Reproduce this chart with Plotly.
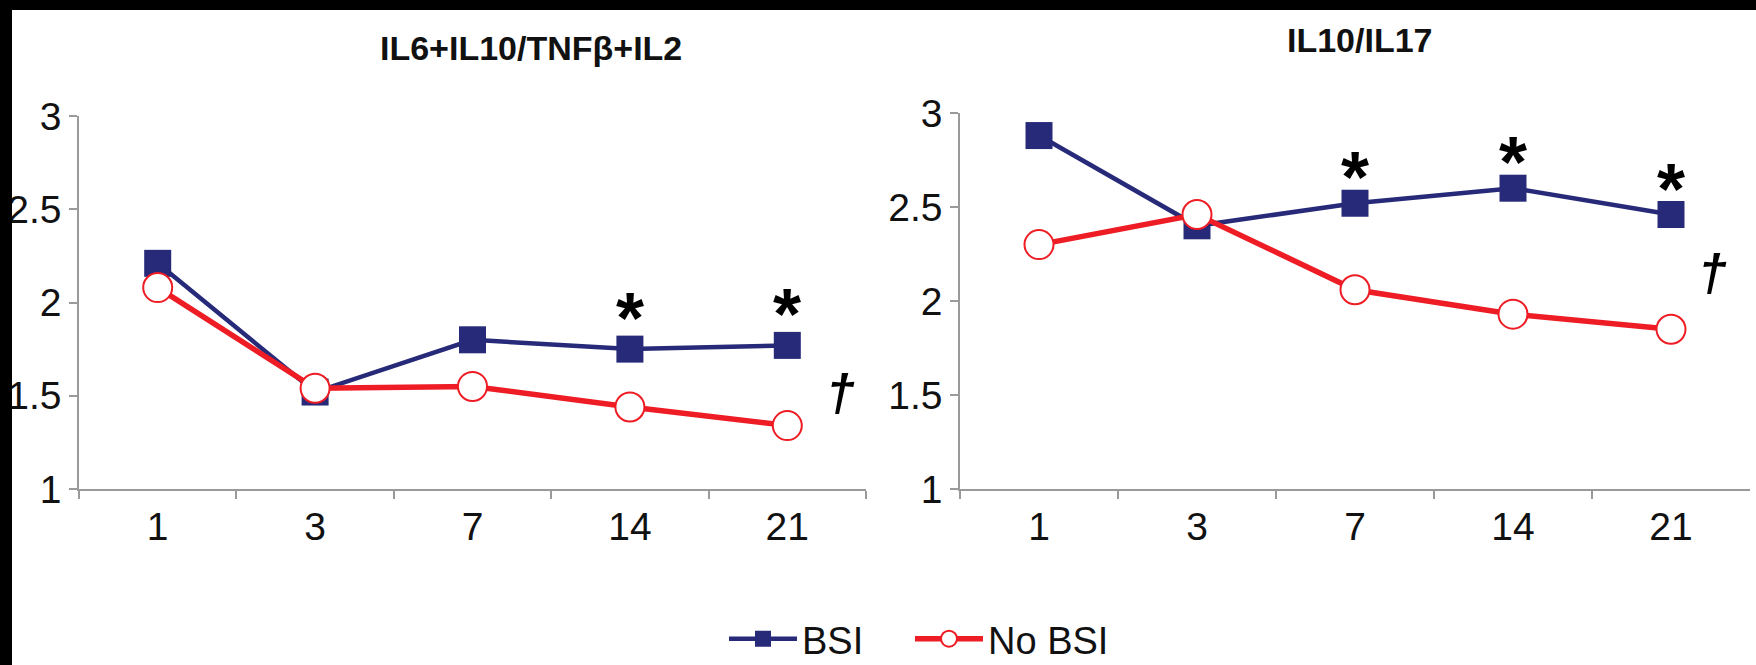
import plotly.graph_objects as go

# Sampling days (category axis)
days = ["1", "3", "7", "14", "21"]

# IL6+IL10/TNFβ+IL2 ratio
ratio1_bsi = [2.21, 1.52, 1.80, 1.75, 1.77]
ratio1_nobsi = [2.08, 1.54, 1.55, 1.44, 1.34]

# IL10/IL17 ratio
ratio2_bsi = [2.88, 2.40, 2.52, 2.60, 2.46]
ratio2_nobsi = [2.30, 2.46, 2.06, 1.93, 1.85]

panel_titles = ["IL6+IL10/TNF\u03b2+IL2", "IL10/IL17"]
y_ticks = [1, 1.5, 2, 2.5, 3]
y_ticktext = ["1", "1.5", "2", "2.5", "3"]

# days with a significant BSI vs No BSI difference ("*")
star_days_1 = ["14", "21"]
star_days_2 = ["7", "14", "21"]

BLUE = "#262a78"
RED = "#ee1c24"
FONT = "Liberation Sans, Arial, sans-serif"

W, H = 1756, 665

fig = go.Figure()

def add_pair(bsi, nobsi, xa, ya, show):
    fig.add_trace(go.Scatter(
        x=days, y=bsi, name="BSI", mode="lines+markers",
        line=dict(color=BLUE, width=4.5),
        marker=dict(symbol="square", size=27, color=BLUE, line=dict(width=0)),
        xaxis=xa, yaxis=ya, showlegend=show, legend="legend"))
    fig.add_trace(go.Scatter(
        x=days, y=nobsi, name="No BSI", mode="lines+markers",
        line=dict(color=RED, width=5.5),
        marker=dict(symbol="circle", size=29, color="white", line=dict(width=2, color=RED)),
        xaxis=xa, yaxis=ya, showlegend=show, legend="legend2"))

add_pair(ratio1_bsi, ratio1_nobsi, "x", "y", True)
add_pair(ratio2_bsi, ratio2_nobsi, "x2", "y2", False)

def px_x(p):
    return p / W

def px_y(p):
    return 1 - p / H

xcommon = dict(
    type="category", range=[-0.5, 4.5], showgrid=False, zeroline=False,
    showline=True, linecolor="#9a9a9a", linewidth=1.5,
    ticks="outside", ticklen=8, tickcolor="#9a9a9a", tickwidth=1.5,
    tickson="boundaries", ticklabelstandoff=2, automargin=False,
    tickfont=dict(family=FONT, size=39, color="#111111"),
)
ycommon = dict(
    range=[1, 3], showgrid=False, zeroline=False,
    showline=True, linecolor="#9a9a9a", linewidth=1.5,
    ticks="outside", ticklen=8, tickcolor="#9a9a9a", tickwidth=1.5,
    tickvals=y_ticks, ticktext=y_ticktext, automargin=False,
    tickfont=dict(family=FONT, size=39, color="#111111"),
)

legend_common = dict(orientation="h", xanchor="left", y=px_y(639), yanchor="middle",
                     font=dict(family=FONT, size=38, color="#111111"),
                     itemwidth=68, bgcolor="rgba(0,0,0,0)")

fig.update_layout(
    width=W, height=H,
    margin=dict(l=0, r=0, t=0, b=0, autoexpand=False),
    paper_bgcolor="white", plot_bgcolor="white",
    xaxis=dict(domain=[px_x(79), px_x(866)], anchor="y", **xcommon),
    yaxis=dict(domain=[px_y(489), px_y(116)], anchor="x", **ycommon),
    xaxis2=dict(domain=[px_x(960), px_x(1750)], anchor="y2", **xcommon),
    yaxis2=dict(domain=[px_y(489), px_y(113)], anchor="x2", **ycommon),
    legend=dict(x=px_x(724), **legend_common),
    legend2=dict(x=px_x(910), **legend_common),
    showlegend=True,
)

annotations = [
    dict(text="<b>%s</b>" % panel_titles[0], x=px_x(531), y=px_y(48), xref="paper", yref="paper",
         showarrow=False, xanchor="center", yanchor="middle",
         font=dict(family=FONT, size=34, color="#111111")),
    dict(text="<b>%s</b>" % panel_titles[1], x=px_x(1360), y=px_y(40), xref="paper", yref="paper",
         showarrow=False, xanchor="center", yanchor="middle",
         font=dict(family=FONT, size=34, color="#111111")),
]

# "*" above the BSI marker; x given as category index
for d in star_days_1:
    i = days.index(d)
    annotations.append(dict(text="<b>*</b>", x=i, y=ratio1_bsi[i], xref="x", yref="y",
                            showarrow=False, yshift=31, xanchor="center", yanchor="middle",
                            font=dict(family=FONT, size=72, color="black")))
for d in star_days_2:
    i = days.index(d)
    annotations.append(dict(text="<b>*</b>", x=i, y=ratio2_bsi[i], xref="x2", yref="y2",
                            showarrow=False, yshift=26, xanchor="center", yanchor="middle",
                            font=dict(family=FONT, size=72, color="black")))

annotations.append(dict(text="<b>\u2020</b>", x=4.335, y=1.515, xref="x", yref="y", showarrow=False,
                        xanchor="center", yanchor="middle",
                        font=dict(family=FONT, size=52, color="black", style="italic")))
annotations.append(dict(text="<b>\u2020</b>", x=4.26, y=2.15, xref="x2", yref="y2", showarrow=False,
                        xanchor="center", yanchor="middle",
                        font=dict(family=FONT, size=52, color="black", style="italic")))

fig.update_layout(annotations=annotations)

# black border bands along the top and left edges
fig.update_layout(shapes=[
    dict(type="rect", xref="paper", yref="paper", x0=0, x1=1, y0=px_y(10), y1=1.01,
         fillcolor="black", line=dict(width=0), layer="above"),
    dict(type="rect", xref="paper", yref="paper", x0=-0.01, x1=px_x(12), y0=-0.01, y1=1.01,
         fillcolor="black", line=dict(width=0), layer="above"),
])

fig.write_html("out.html", post_script="document.body.style.margin='0';")
